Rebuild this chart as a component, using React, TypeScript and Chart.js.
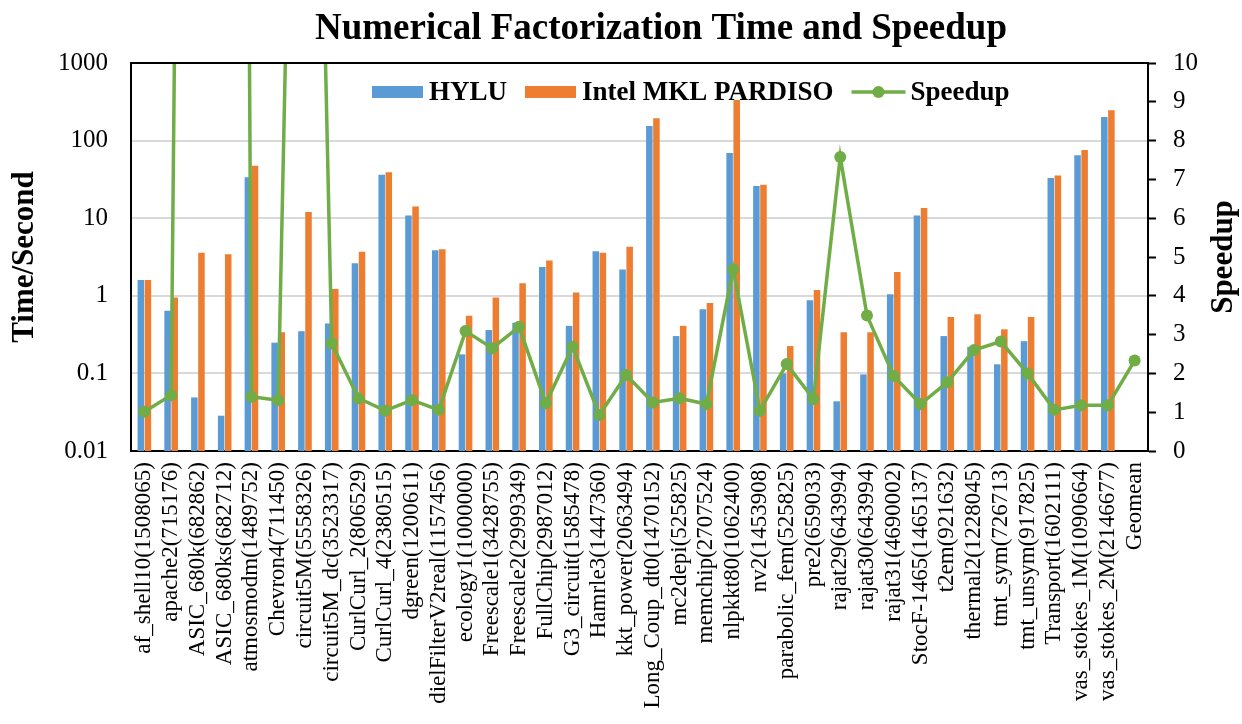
import React, { useEffect, useRef } from "react";
import { Chart, registerables } from "chart.js";

Chart.register(...registerables);

const chartTitle = "Numerical Factorization Time and Speedup";
const leftAxisTitle = "Time/Second";
const rightAxisTitle = "Speedup";

const categories = [
  "af_shell10(1508065)", "apache2(715176)", "ASIC_680k(682862)", "ASIC_680ks(682712)",
  "atmosmodm(1489752)", "Chevron4(711450)", "circuit5M(5558326)", "circuit5M_dc(3523317)",
  "CurlCurl_2(806529)", "CurlCurl_4(2380515)", "dgreen(1200611)", "dielFilterV2real(1157456)",
  "ecology1(1000000)", "Freescale1(3428755)", "Freescale2(2999349)", "FullChip(2987012)",
  "G3_circuit(1585478)", "Hamrle3(1447360)", "kkt_power(2063494)", "Long_Coup_dt0(1470152)",
  "mc2depi(525825)", "memchip(2707524)", "nlpkkt80(1062400)", "nv2(1453908)",
  "parabolic_fem(525825)", "pre2(659033)", "rajat29(643994)", "rajat30(643994)",
  "rajat31(4690002)", "StocF-1465(1465137)", "t2em(921632)", "thermal2(1228045)",
  "tmt_sym(726713)", "tmt_unsym(917825)", "Transport(1602111)", "vas_stokes_1M(1090664)",
  "vas_stokes_2M(2146677)", "Geomean",
];

const hyluTimes = [
  1.6, 0.64, 0.049, 0.0285, 33.7, 0.249, 0.35, 0.44, 2.62, 36.3,
  10.8, 3.86, 0.176, 0.362, 0.45, 2.35, 0.41, 3.74, 2.19, 154,
  0.303, 0.67, 69, 26, 0.1, 0.875, 0.0437, 0.097, 1.05, 10.8,
  0.303, 0.22, 0.131, 0.26, 33, 64.7, 201, null,
];

const pardisoTimes = [
  1.6, 0.95, 3.6, 3.43, 47.5, 0.339, 12, 1.22, 3.7, 39,
  14.1, 3.97, 0.555, 0.95, 1.45, 2.84, 1.1, 3.6, 4.3, 194,
  0.41, 0.81, 333, 27, 0.225, 1.19, 0.339, 0.339, 2.03, 13.5,
  0.533, 0.577, 0.37, 0.533, 35.4, 75.7, 246, null,
];

const speedups = [
  1.01, 1.44, 73, 120, 1.4, 1.31, 34, 2.77, 1.36, 1.04,
  1.31, 1.06, 3.09, 2.65, 3.2, 1.23, 2.69, 0.93, 1.96, 1.25,
  1.36, 1.21, 4.68, 1.04, 2.24, 1.34, 7.58, 3.49, 1.93, 1.21,
  1.77, 2.6, 2.82, 2.0, 1.06, 1.18, 1.18, 2.33,
];

const timeTickLabels = ["0.01", "0.1", "1", "10", "100", "1000"];
const speedupTickLabels = ["0", "1", "2", "3", "4", "5", "6", "7", "8", "9", "10"];

const SERIF = "'Liberation Serif', 'Times New Roman', serif";
const BLUE = "#5B9BD5";
const ORANGE = "#ED7D31";
const GREEN = "#70AD47";

const decorPlugin = {
  id: "decor",
  afterDraw(chart: any) {
    const { ctx, chartArea: ca } = chart;
    ctx.save();
    // top frame line
    ctx.strokeStyle = "#000";
    ctx.lineWidth = 2;
    ctx.beginPath();
    ctx.moveTo(ca.left, ca.top);
    ctx.lineTo(ca.right, ca.top);
    ctx.stroke();

    // chart title
    ctx.fillStyle = "#000";
    ctx.textAlign = "center";
    ctx.textBaseline = "middle";
    ctx.font = `bold 37px ${SERIF}`;
    ctx.fillText(chartTitle, 661, 29);

    // legend
    ctx.font = `bold 27px ${SERIF}`;
    ctx.textAlign = "left";
    const ly = 92;
    let x = 372;
    chart.data.datasets.forEach((ds: any) => {
      if (ds.type === "line") {
        ctx.strokeStyle = ds.borderColor;
        ctx.lineWidth = 3.5;
        ctx.beginPath();
        ctx.moveTo(x, ly);
        ctx.lineTo(x + 54, ly);
        ctx.stroke();
        ctx.fillStyle = ds.backgroundColor;
        ctx.beginPath();
        ctx.arc(x + 27, ly, 6, 0, Math.PI * 2);
        ctx.fill();
        x += 59;
      } else {
        ctx.fillStyle = ds.backgroundColor;
        ctx.fillRect(x, ly - 6, 51, 12);
        x += 57;
      }
      ctx.fillStyle = "#000";
      ctx.fillText(ds.label, x, ly + 1);
      x += ctx.measureText(ds.label).width + 18;
    });

    // right axis title (reads bottom to top)
    ctx.translate(1224, (ca.top + ca.bottom) / 2);
    ctx.rotate(-Math.PI / 2);
    ctx.textAlign = "center";
    ctx.font = `bold 31px ${SERIF}`;
    ctx.fillStyle = "#000";
    ctx.fillText(rightAxisTitle, 0, 0);
    ctx.restore();
  },
};

export default function App() {
  const ref = useRef<HTMLCanvasElement | null>(null);

  useEffect(() => {
    if (!ref.current) return;
    const chart = new Chart(ref.current, {
      type: "bar",
      data: {
        labels: categories,
        datasets: [
          {
            type: "bar",
            label: "HYLU",
            data: hyluTimes,
            yAxisID: "y",
            backgroundColor: BLUE,
            categoryPercentage: 0.53,
            barPercentage: 0.92,
            order: 1,
          },
          {
            type: "bar",
            label: "Intel MKL PARDISO",
            data: pardisoTimes,
            yAxisID: "y",
            backgroundColor: ORANGE,
            categoryPercentage: 0.53,
            barPercentage: 0.92,
            order: 1,
          },
          {
            type: "line",
            label: "Speedup",
            data: speedups,
            yAxisID: "y1",
            borderColor: GREEN,
            backgroundColor: GREEN,
            borderWidth: 3.5,
            pointRadius: 6,
            pointBackgroundColor: GREEN,
            pointBorderColor: GREEN,
            pointBorderWidth: 0,
            tension: 0,
            order: 0,
          } as any,
        ],
      },
      options: {
        animation: false,
        responsive: true,
        maintainAspectRatio: false,
        layout: { padding: { top: 63, left: 0, right: 0, bottom: 0 } },
        plugins: {
          legend: { display: false },
          title: { display: false },
          tooltip: { enabled: false },
        },
        scales: {
          x: {
            type: "category",
            offset: true,
            grid: { display: false, drawTicks: false },
            border: { display: true, color: "#000", width: 2 },
            ticks: {
              autoSkip: false,
              minRotation: 90,
              maxRotation: 90,
              padding: 11,
              color: "#000",
              font: { family: SERIF, size: 23 },
            },
            afterFit: (s: any) => {
              s.height = 273;
            },
          },
          y: {
            type: "logarithmic",
            position: "left",
            min: 0.01,
            max: 1000,
            grid: { color: "#d9d9d9", lineWidth: 2, drawTicks: false },
            border: { display: true, color: "#000", width: 2 },
            ticks: {
              padding: 23,
              color: "#000",
              font: { family: SERIF, size: 25 },
              callback: (v: any) => {
                const i = timeTickLabels.findIndex((t) => Math.abs(parseFloat(t) - v) < 1e-9);
                return i >= 0 ? timeTickLabels[i] : "";
              },
            },
            afterBuildTicks: (s: any) => {
              s.ticks = timeTickLabels.map((t) => ({ value: parseFloat(t) }));
            },
            title: {
              display: true,
              text: leftAxisTitle,
              color: "#000",
              font: { family: SERIF, size: 31, weight: "bold" },
              padding: { top: 6, bottom: 0 },
            },
            afterFit: (s: any) => {
              s.width = 131;
            },
          },
          y1: {
            type: "linear",
            position: "right",
            min: 0,
            max: 10,
            grid: {
              drawOnChartArea: false,
              drawTicks: true,
              tickLength: 8,
              tickColor: "#000",
              tickWidth: 2,
            },
            border: { display: true, color: "#000", width: 2 },
            ticks: {
              stepSize: 1,
              padding: 17,
              color: "#000",
              font: { family: SERIF, size: 25 },
              callback: (v: any) => speedupTickLabels[Math.round(v)] ?? "",
            },
            afterFit: (s: any) => {
              s.width = 94;
            },
          },
        },
      },
      plugins: [decorPlugin],
    });
    return () => chart.destroy();
  }, []);

  return (
    <div style={{ position: "absolute", left: 0, top: 0, width: 1242, height: 724, background: "#fff" }}>
      <canvas ref={ref} />
    </div>
  );
}
